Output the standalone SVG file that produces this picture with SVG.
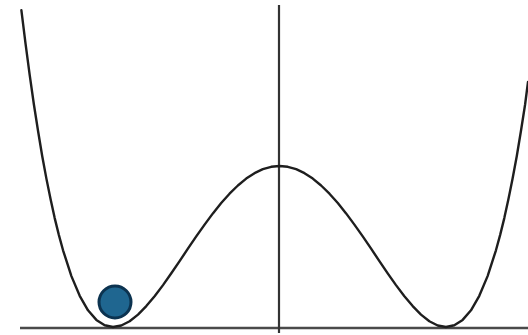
<svg xmlns="http://www.w3.org/2000/svg" width="528" height="335" viewBox="0 0 528 335">
<style>
.axis{stroke:#4a4a4a;stroke-width:2.5;fill:none}
.curve{stroke:#1e1e1e;stroke-width:2.4;fill:none;stroke-linejoin:round;stroke-linecap:round}
.ball{fill:#1f6690;stroke:#0c3350;stroke-width:3}
</style>
<rect width="528" height="335" fill="#ffffff"/>
<g id="axes">
<line class="axis" x1="20" y1="328" x2="528" y2="328"/>
<line class="axis" x1="279" y1="5" x2="279" y2="333" style="stroke:#333;stroke-width:2.2"/>
</g>
<g id="potential">
<polyline class="curve" points="21.4,10.3 25.6,44.1 29.75,75.4 33.9,104.5 38.1,131.3 42.2,156 46.4,178.6 50.6,199.3 54.7,218.1 58.9,235.1 63.05,250.3 71.4,276.1 79.7,295.8 88,310.3 96.35,319.9 104.7,325.3 113,327 121.3,325.5 129.65,321.2 138,314.6 146.3,306.1 154.6,296.2 163,285.1 171.3,273.3 179.6,261.1 187.9,248.7 196.25,236.4 204.6,224.6 212.9,213.4 221.2,203 229.55,193.7 237.9,185.5 246.2,178.6 254.5,173.2 262.85,169.2 271.2,166.8 279.5,166 287.8,166.8 296.15,169.2 304.5,173.2 312.8,178.6 321.1,185.5 329.45,193.7 337.8,203 346.1,213.4 354.4,224.6 362.75,236.4 371.1,248.7 379.4,261.1 387.7,273.3 396,285.1 404.4,296.2 412.7,306.1 421,314.6 429.35,321.2 437.7,325.5 446,327 454.3,325.3 462.65,319.9 471,310.3 479.3,295.8 487.6,276.1 495.95,250.3 500.1,235.1 504.3,218.1 508.4,199.3 512.6,178.6 516.8,156 520.9,131.3 525.1,104.5 528,82"/>
</g>
<g id="ball">
<circle class="ball" cx="115" cy="302" r="16"/>
</g>
</svg>
